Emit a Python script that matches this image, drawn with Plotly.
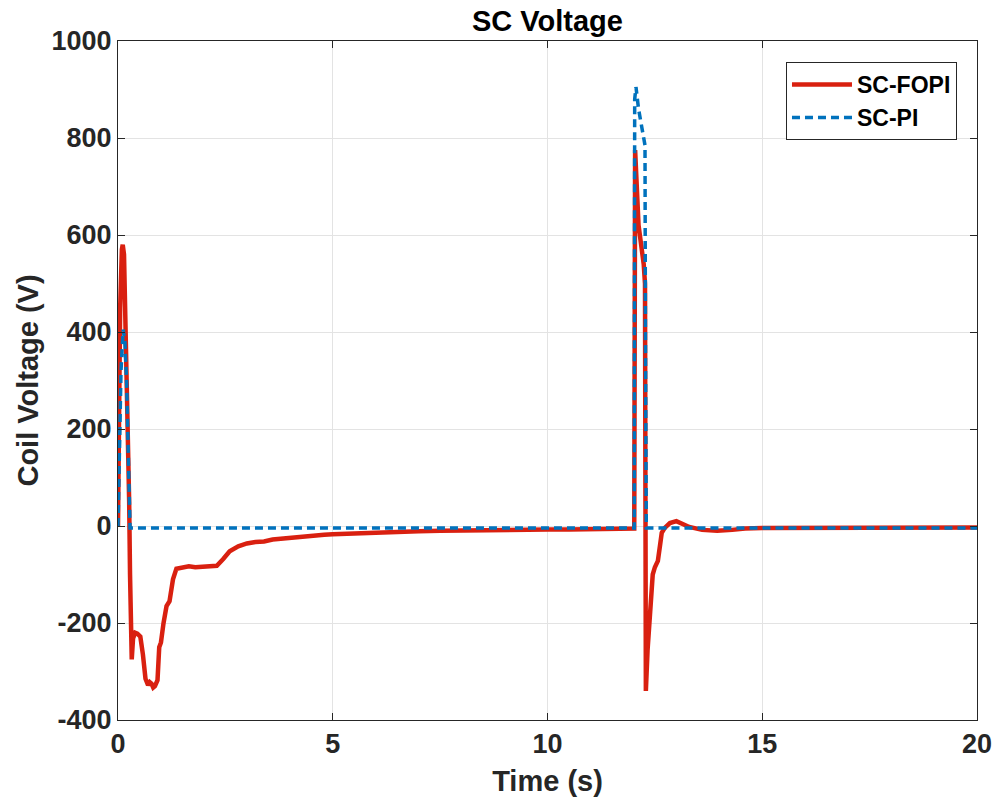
import plotly.graph_objects as go

# SC-FOPI coil voltage (s, V)
t_fopi = [0, 0.02, 0.05, 0.09, 0.11, 0.14, 0.18, 0.22, 0.26, 0.28, 0.30, 0.32, 0.35,
          0.40, 0.45, 0.52, 0.58, 0.64, 0.70, 0.74, 0.78, 0.82, 0.86, 0.92, 0.96, 1.00,
          1.06, 1.13, 1.20, 1.28, 1.36, 1.5, 1.65, 1.8, 1.95, 2.1, 2.3, 2.45, 2.6, 2.8,
          3.0, 3.2, 3.4, 3.6, 3.8, 4.0, 4.2, 4.4, 4.6, 4.8, 5.0, 5.5, 6.0, 6.5, 7.0,
          7.5, 8.0, 8.5, 9.0, 9.5, 10.0, 10.5, 11.0, 11.5, 12.0, 12.02, 12.04, 12.08,
          12.12, 12.18, 12.24, 12.27, 12.29, 12.33, 12.37, 12.39, 12.45, 12.5, 12.57,
          12.62, 12.66, 12.73, 12.85, 13.0, 13.15, 13.3, 13.6, 13.95, 14.3, 14.6, 15,
          16, 17, 18, 19, 20]
v_fopi = [0, 200, 450, 570, 580, 560, 420, 200, 50, -100, -200, -275, -232,
          -220, -222, -228, -265, -315, -328, -322, -325, -333, -330, -318, -250, -240,
          -200, -165, -155, -110, -88, -85, -83, -85, -84, -85, -82, -68, -52, -42,
          -36, -33, -32, -28, -26, -24, -22, -21, -20, -18, -17, -15, -14, -12, -11,
          -10, -9, -9, -8, -8, -7, -7, -6, -6, -5, -5, 775, 680,
          620, 580, 540, 500, -340, -256, -200, -174, -100, -85, -72,
          -40, -14, -4, 6, 10, 4, -2, -8, -10, -8, -5, -4,
          -4, -3, -3, -3, -3]

# SC-PI coil voltage (s, V)
t_pi = [0, 0.03, 0.07, 0.12, 0.16, 0.20, 0.23, 0.26, 0.28, 1.0, 5.0, 10.0, 12.0,
        12.02, 12.03, 12.06, 12.12, 12.2, 12.27, 12.28, 12.30, 15.0, 20.0]
v_pi = [0, 150, 320, 405, 380, 300, 160, 50, -4, -4, -4, -4, -4,
        -4, 880, 905, 860, 820, 785, 400, -4, -4, -4]

x_ticks = [0, 5, 10, 15, 20]
y_ticks = [-400, -200, 0, 200, 400, 600, 800, 1000]

font_main = "Liberation Sans, Arial, sans-serif"
axis_color = "#262626"
grid_color = "#e3e3e3"

fig = go.Figure()
fig.add_trace(go.Scatter(
    x=t_fopi, y=v_fopi, mode="lines", name="<b>SC-FOPI</b>",
    line=dict(color="#d92010", width=4.5),
))
fig.add_trace(go.Scatter(
    x=t_pi, y=v_pi, mode="lines", name="<b>SC-PI</b>",
    line=dict(color="#0072bd", width=3.5, dash="8px,5px"),
))

axis_common = dict(
    showline=True, linecolor=axis_color, linewidth=1, mirror="allticks",
    ticks="inside", ticklen=7, tickcolor=axis_color,
    showgrid=True, gridcolor=grid_color, gridwidth=1,
    zeroline=False,
    tickfont=dict(family=font_main, size=27, color=axis_color, weight="bold"),
)

fig.update_xaxes(
    range=[0, 20], tickvals=x_ticks, ticktext=[str(v) for v in x_ticks],
    title=dict(text="<b>Time (s)</b>",
               font=dict(family=font_main, size=29, color=axis_color),
               standoff=12),
    **axis_common,
)
fig.update_yaxes(
    range=[-400, 1000], tickvals=y_ticks, ticktext=[str(v) for v in y_ticks],
    title=dict(text="<b>Coil Voltage (V)</b>",
               font=dict(family=font_main, size=29, color=axis_color),
               standoff=4),
    **axis_common,
)

fig.update_layout(
    width=996, height=807,
    margin=dict(l=118, r=19, t=41, b=87, autoexpand=False),
    paper_bgcolor="white", plot_bgcolor="white",
    title=dict(text="<b>SC Voltage</b>", x=0.5, xanchor="center", xref="paper",
               y=0.974, yanchor="middle",
               font=dict(family=font_main, size=29, color="black")),
    legend=dict(
        x=0.9767, y=0.969, xanchor="right", yanchor="top",
        bgcolor="white", bordercolor=axis_color, borderwidth=1,
        font=dict(family=font_main, size=23, color="black"),
        itemwidth=60, tracegroupgap=2,
    ),
    showlegend=True,
)

fig.write_html("out.html")
